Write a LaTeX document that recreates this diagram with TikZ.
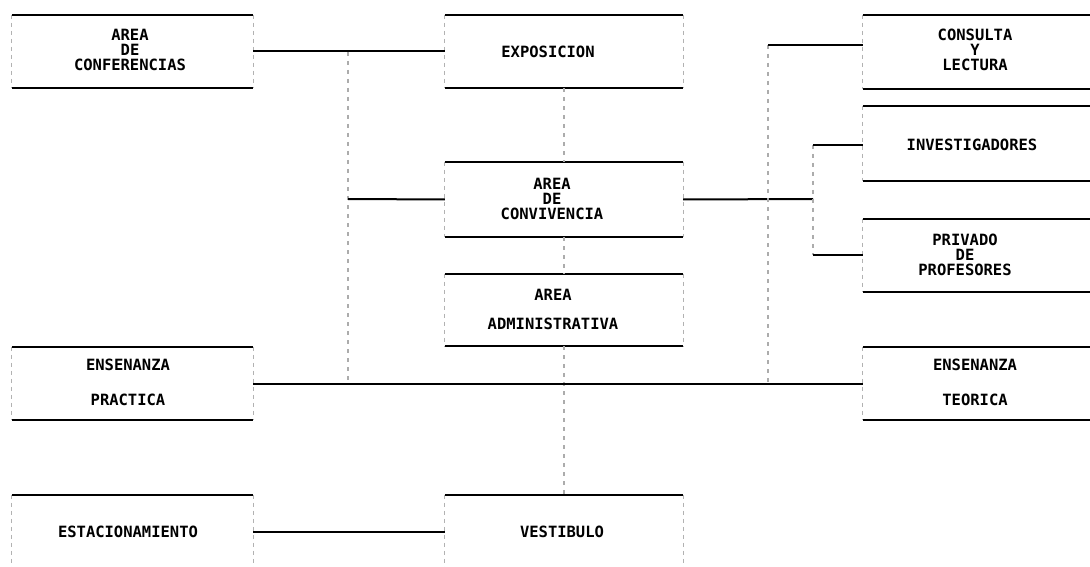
\documentclass[tikz,border=0pt]{standalone}
\usepackage{fontspec}
\newfontfamily\dotfont{DejaVu Sans Mono}
\begin{document}
\begin{tikzpicture}[x=1bp,y=-1bp,
  box/.style={rectangle, inner sep=0pt, draw=none},
  lbl/.style={inner sep=0pt, align=center, font=\dotfont\bfseries\fontsize{15.5bp}{15bp}\selectfont},
  edgeline/.style={black, line width=2bp},
  sideline/.style={gray!60, line width=1.2bp, dash pattern=on 4bp off 4bp},
  wire/.style={black, line width=2bp},
  vwire/.style={gray!65, line width=1.3bp, dash pattern=on 4bp off 5bp}]
\useasboundingbox (0,0) rectangle (1090,567);
\fill[white] (0,0) rectangle (1090,567);

% boxes
\node[box, minimum width=241bp, minimum height=73bp] (conf) at (132.5,51.5) {};
\node[box, minimum width=238bp, minimum height=73bp] (expo) at (564,51.5) {};
\node[box, minimum width=227bp, minimum height=74bp] (cons) at (976.5,52) {};
\node[box, minimum width=227bp, minimum height=75bp] (inv)  at (976.5,143.5) {};
\node[box, minimum width=227bp, minimum height=73bp] (priv) at (976.5,255.5) {};
\node[box, minimum width=238bp, minimum height=75bp] (conv) at (564,199.5) {};
\node[box, minimum width=238bp, minimum height=72bp] (adm)  at (564,310) {};
\node[box, minimum width=241bp, minimum height=73bp] (prac) at (132.5,383.5) {};
\node[box, minimum width=227bp, minimum height=73bp] (teor) at (976.5,383.5) {};
\node[box, minimum width=241bp, minimum height=74bp] (est)  at (132.5,532) {};
\node[box, minimum width=238bp, minimum height=74bp] (vest) at (564,532) {};

% box outlines: solid top/bottom, dotted sides
\foreach \n in {conf,expo,conv,adm,prac}{
  \draw[edgeline] (\n.north west) -- (\n.north east);
  \draw[edgeline] (\n.south west) -- (\n.south east);
  \draw[sideline] (\n.north west) -- (\n.south west);
  \draw[sideline] (\n.north east) -- (\n.south east);
}
\foreach \n in {cons,inv,priv,teor}{
  \draw[edgeline] (\n.north west) -- (\n.north east);
  \draw[edgeline] (\n.south west) -- (\n.south east);
  \draw[sideline] (\n.north west) -- (\n.south west);
}
\foreach \n in {est,vest}{
  \draw[edgeline] (\n.north west) -- (\n.north east);
  \draw[sideline] (\n.north west) -- (\n.south west);
  \draw[sideline] (\n.north east) -- (\n.south east);
}

% labels
\node[lbl] (conf-t) at (130,50) {AREA\\DE\\CONFERENCIAS};
\node[lbl] (expo-t) at (548,52) {EXPOSICION};
\node[lbl] (cons-t) at (975,50) {CONSULTA\\Y\\LECTURA};
\node[lbl] (inv-t)  at (972,145) {INVESTIGADORES};
\node[lbl] (priv-t) at (965,255) {PRIVADO\\DE\\PROFESORES};
\node[lbl] (conv-t) at (552,199) {AREA\\DE\\CONVIVENCIA};
\node[lbl] (adm-t)  at (553,309) {AREA\\[14bp]ADMINISTRATIVA};
\node[lbl] (prac-t) at (128,382) {ENSENANZA\\[20bp]PRACTICA};
\node[lbl] (teor-t) at (975,382) {ENSENANZA\\[20bp]TEORICA};
\node[lbl] (est-t)  at (128,532) {ESTACIONAMIENTO};
\node[lbl] (vest-t) at (562,532) {VESTIBULO};

% junction coordinates
\coordinate (jA) at (348,52);
\coordinate (jB) at (348,199);
\coordinate (jC) at (348,383);
\coordinate (jD) at (768,45);
\coordinate (jF) at (768,383);
\coordinate (jG) at (813,199);
\coordinate (jH) at (813,145);
\coordinate (jI) at (813,255);

% connectors
\draw[wire] (conf.east) -- (expo.west);
\draw[vwire] (jA) -- (jC);
\draw[wire] (jB) -- (conv.west);
\draw[vwire] (expo.south) -- (conv.north);
\draw[vwire] (conv.south) -- (adm.north);
\draw[vwire] (adm.south) -- (vest.north);
\draw[wire] (conv.east) -- (jG);
\draw[vwire] (jD) -- (jF);
\draw[wire] (jD) -- (jD -| cons.west);
\draw[vwire] (jH) -- (jI);
\draw[wire] (jH) -- (jH -| inv.west);
\draw[wire] (jI) -- (jI -| priv.west);
\draw[wire] (prac.east) -- (teor.west);
\draw[wire] (est.east) -- (vest.west);
\end{tikzpicture}
\end{document}
